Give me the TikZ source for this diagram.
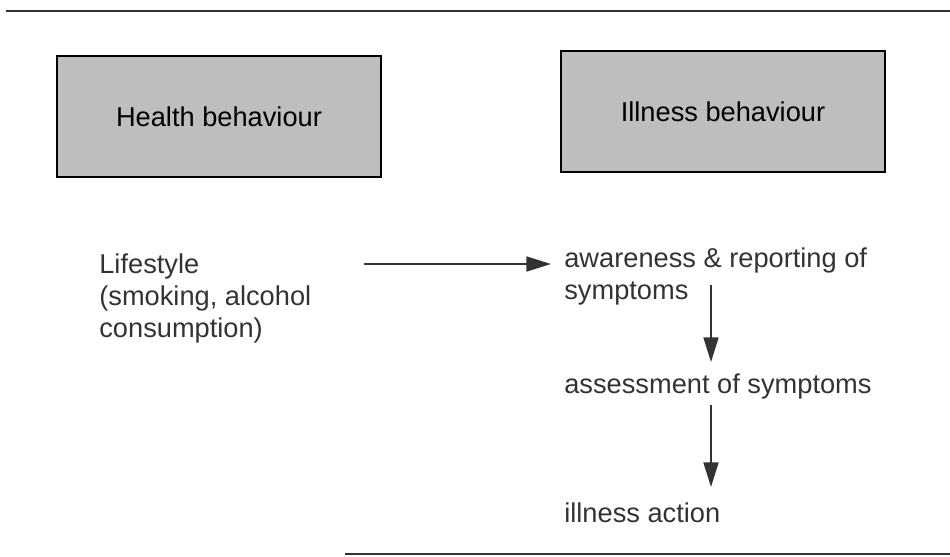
\documentclass[tikz,border=0pt]{standalone}
\usepackage{fontspec}
\setmainfont{Liberation Sans}
\definecolor{inkDark}{HTML}{333333}
\definecolor{boxGrey}{HTML}{BEBEBE}
\usetikzlibrary{arrows.meta}

\begin{document}
\begin{tikzpicture}[
        x=0.02cm, y=-0.02cm,
        box/.style={rectangle, draw=black, fill=boxGrey, line width=1.1pt, inner sep=0pt,
                    minimum width=6.48cm, minimum height=2.42cm, font=\fontsize{15.5}{18}\selectfont},
        txt/.style={anchor=north west, inner sep=0pt, align=left, text=inkDark,
                    font=\fontsize{15.5}{18.2}\selectfont},
        arrow/.style={-{Triangle[length=14pt, width=8.5pt]}, line width=1.1pt, inkDark}
      ]
        \useasboundingbox (0,0) rectangle (950,556);
        % rules above and below
        \draw[line width=1.6pt, inkDark] (6,11) -- (950,11);
        \draw[line width=1.2pt, inkDark] (345,554) -- (950,554);
        % the two headings
        \node[box] (health) at (219,116.5) {Health behaviour};
        \node[box] (illness) at (723,111.5) {Illness behaviour};
        % texts below them
        \node[txt] (life) at (99,253) {Lifestyle\\(smoking, alcohol\\consumption)};
        \node[txt] (aware) at (564,247) {awareness \& reporting of\\symptoms};
        \node[txt] (assess) at (564,373) {assessment of symptoms};
        \node[txt] (action) at (564,502) {illness action};
        \draw[arrow] ([shift={(52,11)}]life.north east) -- ([shift={(-13,17)}]aware.north west);
        \draw[arrow] ([shift={(147,38)}]aware.north west) -- ([shift={(147,-11)}]assess.north west);
        \draw[arrow] ([shift={(147,32)}]assess.north west) -- ([shift={(147,-15)}]action.north west);
      \end{tikzpicture}
\end{document}
